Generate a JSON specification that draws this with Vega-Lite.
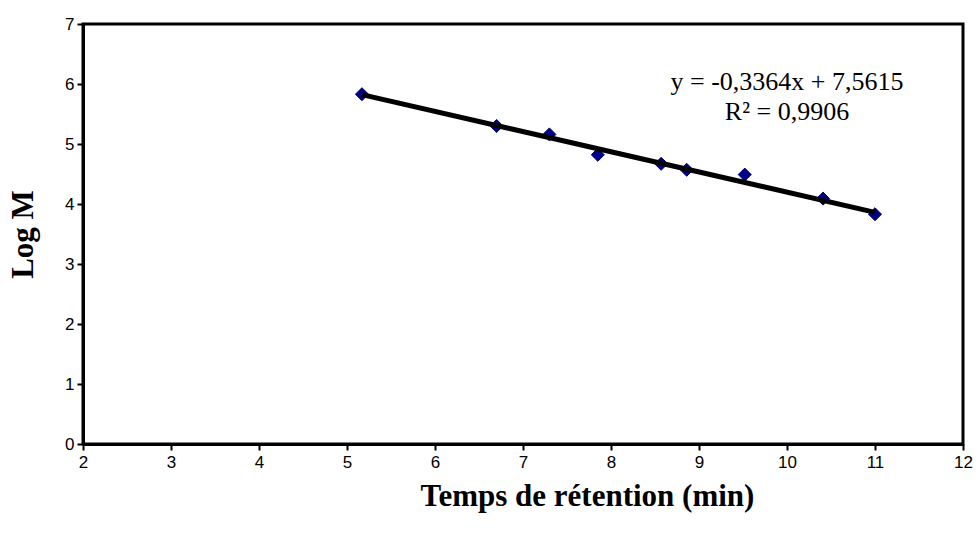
{
  "$schema": "https://vega.github.io/schema/vega-lite/v6.json",
  "width": 880,
  "height": 420,
  "autosize": {"type": "none"},
  "padding": {"left": 83, "top": 24, "right": 16, "bottom": 95},
  "background": "white",
  "config": {
    "view": {"stroke": "black", "strokeWidth": 3},
    "axis": {
      "grid": false,
      "domainColor": "black",
      "domainWidth": 3,
      "tickColor": "black",
      "tickWidth": 2,
      "tickSize": 6,
      "labelFont": "Liberation Sans",
      "labelFontSize": 20,
      "labelColor": "black",
      "labelFlush": false,
      "titleFont": "Liberation Serif",
      "titleFontSize": 31,
      "titleFontWeight": "bold",
      "titleColor": "black"
    }
  },
  "datasets": {
    "points": [
      {"t": 5.17, "logM": 5.83},
      {"t": 6.70, "logM": 5.30},
      {"t": 7.30, "logM": 5.16},
      {"t": 7.85, "logM": 4.82},
      {"t": 8.57, "logM": 4.67},
      {"t": 8.86, "logM": 4.57},
      {"t": 9.52, "logM": 4.49},
      {"t": 10.41, "logM": 4.09},
      {"t": 11.0, "logM": 3.83}
    ],
    "trend": [
      {"t": 5.17, "logM": 5.822},
      {"t": 11.0, "logM": 3.861}
    ],
    "notes": [
      {"t": 10.0, "logM": 6.03, "label": "y = -0,3364x + 7,5615"},
      {"t": 10.0, "logM": 5.53, "label": "R² = 0,9906"}
    ]
  },
  "layer": [
    {
      "data": {"name": "points"},
      "mark": {"type": "point", "shape": "diamond", "filled": true, "size": 170, "color": "#00008B", "stroke": "#000060", "strokeWidth": 1, "opacity": 1},
      "encoding": {
        "x": {
          "field": "t", "type": "quantitative",
          "scale": {"domain": [2, 12], "nice": false, "zero": false},
          "axis": {"title": "Temps de rétention (min)", "values": [2,3,4,5,6,7,8,9,10,11,12], "format": "d", "labelFontSize": 17, "labelFlush": false, "labelPadding": 4, "titlePadding": 11, "titleX": 504, "titleAlign": "center"}
        },
        "y": {
          "field": "logM", "type": "quantitative",
          "scale": {"domain": [0, 7], "nice": false},
          "axis": {"title": "Log M", "values": [0,1,2,3,4,5,6,7], "format": "d", "labelFontSize": 17, "labelFlush": false, "labelPadding": 3, "titlePadding": 25}
        }
      }
    },
    {
      "data": {"name": "trend"},
      "mark": {"type": "line", "color": "black", "strokeWidth": 5},
      "encoding": {
        "x": {"field": "t", "type": "quantitative"},
        "y": {"field": "logM", "type": "quantitative"}
      }
    },
    {
      "data": {"name": "notes"},
      "mark": {"type": "text", "font": "Liberation Serif", "fontSize": 26, "color": "black", "align": "center", "baseline": "middle"},
      "encoding": {
        "x": {"field": "t", "type": "quantitative"},
        "y": {"field": "logM", "type": "quantitative"},
        "text": {"field": "label"}
      }
    }
  ]
}
